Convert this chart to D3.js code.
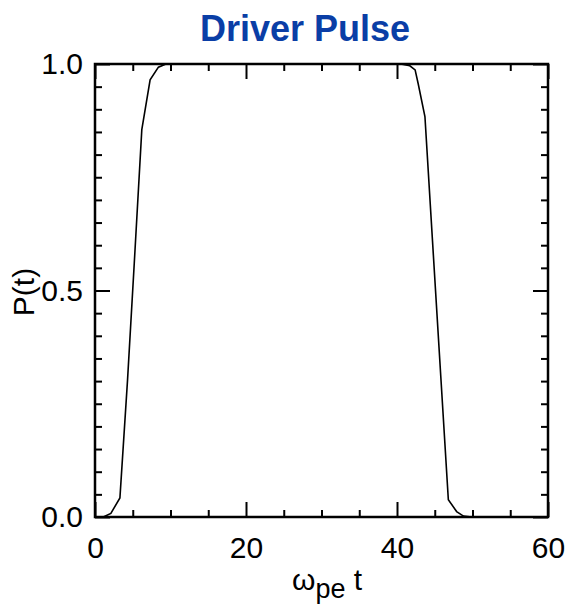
<!DOCTYPE html>
<html>
<head>
<meta charset="utf-8">
<script src="https://cdn.jsdelivr.net/npm/d3@7"></script>
<style>
  body { margin: 0; background: #fff; }
  svg text { font-family: "Liberation Sans", Arial, Helvetica, sans-serif; fill: #000; }
</style>
</head>
<body>
<script>
'use strict';

// pulse shape (time in units of 1/omega_pe)
const times  = [0, 1.1, 2.1, 3.3, 4.3, 5.2, 6.2, 7.3, 8.4, 9.4, 40.5, 41.7, 42.4, 42.8, 43.7, 44.7, 45.8, 46.8, 47.9, 48.8, 49.9];
const pulse  = [0, 0.0, 0.008, 0.042, 0.30, 0.56, 0.855, 0.965, 0.993, 1.0, 1.0, 0.996, 0.987, 0.957, 0.884, 0.61, 0.31, 0.038, 0.012, 0.002, 0];

const xMajor = [0, 20, 40, 60];
const xMinor = [5, 10, 15, 25, 30, 35, 45, 50, 55];
const yMajor = [0, 0.5, 1.0];
const yMinor = d3.range(1, 20).filter(i => i !== 10).map(i => i / 20);

(function () {
  const width = 572, height = 607;
  const plotLeft = 95, plotRight = 548, plotTop = 64, plotBottom = 517;

  const svg = d3.select('body').append('svg')
    .attr('width', width)
    .attr('height', height);

  const x = d3.scaleLinear().domain([0, 60]).range([plotLeft, plotRight]);
  const y = d3.scaleLinear().domain([0, 1]).range([plotBottom, plotTop]);

  // title
  svg.append('text')
    .attr('x', 305)
    .attr('y', 41)
    .attr('text-anchor', 'middle')
    .style('font-size', '36px')
    .style('font-weight', 'bold')
    .style('fill', '#0a3ea6')
    .text('Driver Pulse');

  // helper: draw one set of ticks
  function ticks(axis, transform) {
    const g = svg.append('g')
      .attr('transform', transform)
      .call(axis);
    g.select('.domain').remove();
    g.selectAll('line').attr('stroke', '#000').attr('stroke-width', 2);
    return g;
  }

  // bottom axis with labels
  const xb = ticks(d3.axisBottom(x).tickValues(xMajor).tickSize(-15).tickPadding(20).tickFormat(d3.format('d')),
    `translate(0,${plotBottom})`);
  xb.selectAll('text').style('font-size', '30px');
  ticks(d3.axisBottom(x).tickValues(xMinor).tickSize(-7).tickFormat(''), `translate(0,${plotBottom})`);
  // top mirror ticks
  ticks(d3.axisTop(x).tickValues(xMajor).tickSize(-15).tickFormat(''), `translate(0,${plotTop})`);
  ticks(d3.axisTop(x).tickValues(xMinor).tickSize(-7).tickFormat(''), `translate(0,${plotTop})`);

  // left axis with labels
  const yl = ticks(d3.axisLeft(y).tickValues(yMajor).tickSize(-15).tickPadding(12).tickFormat(d3.format('.1f')),
    `translate(${plotLeft},0)`);
  yl.selectAll('text').style('font-size', '30px');
  ticks(d3.axisLeft(y).tickValues(yMinor).tickSize(-7).tickFormat(''), `translate(${plotLeft},0)`);
  // right mirror ticks
  ticks(d3.axisRight(y).tickValues(yMajor).tickSize(-15).tickFormat(''), `translate(${plotRight},0)`);
  ticks(d3.axisRight(y).tickValues(yMinor).tickSize(-7).tickFormat(''), `translate(${plotRight},0)`);

  // frame
  svg.append('rect')
    .attr('x', plotLeft)
    .attr('y', plotTop)
    .attr('width', plotRight - plotLeft)
    .attr('height', plotBottom - plotTop)
    .attr('fill', 'none')
    .attr('stroke', '#000')
    .attr('stroke-width', 2.5);

  // pulse curve
  const line = d3.line()
    .x((d, i) => x(times[i]))
    .y(d => y(d));

  svg.append('path')
    .datum(pulse)
    .attr('d', line)
    .attr('fill', 'none')
    .attr('stroke', '#000')
    .attr('stroke-width', 1.6);

  // axis titles
  const xt = svg.append('text')
    .attr('x', 292)
    .attr('y', 590)
    .style('font-size', '30px');
  xt.append('tspan').text('ω');
  xt.append('tspan').attr('dy', 8).style('font-size', '27px').text('pe');
  xt.append('tspan').attr('dy', -8).text(' t');

  svg.append('text')
    .attr('transform', 'translate(34,292)rotate(-90)')
    .attr('text-anchor', 'middle')
    .style('font-size', '30px')
    .text('P(t)');
})();
</script>
</body>
</html>
